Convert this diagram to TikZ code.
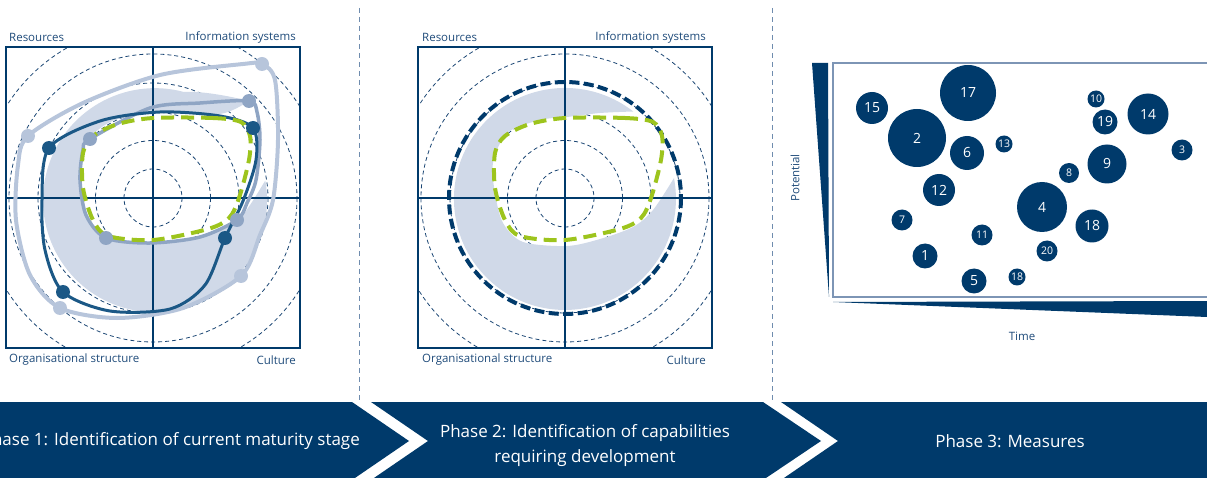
\documentclass[tikz,border=0pt]{standalone}
\usepackage{fontspec}
\setmainfont{Open Sans}
\usetikzlibrary{positioning}

\definecolor{navy}{HTML}{003A6B}
\definecolor{ringblue}{HTML}{1A4573}
\definecolor{darkline}{HTML}{1B5886}
\definecolor{midline}{HTML}{8FA5C4}
\definecolor{lightline}{HTML}{B7C5DB}
\definecolor{fillblue}{HTML}{D0D9E8}
\definecolor{lime}{HTML}{9DC41D}
\definecolor{boxgrey}{HTML}{7D95B5}
\definecolor{sepgrey}{HTML}{6F8CAE}
\definecolor{labelblue}{HTML}{1F4B7A}

\begin{document}
\begin{tikzpicture}[x=1pt, y=-1pt,
    ring/.style={ringblue, line width=0.8pt, dash pattern=on 4pt off 3pt},
    axlabel/.style={text=labelblue, inner sep=0pt, font=\fontsize{11.5}{12}\selectfont},
    greendash/.style={lime, line width=4pt, dash pattern=on 13pt off 7pt},
    bubble/.style={circle, fill=navy, text=white, inner sep=0pt, font=\fontsize{14}{14}\selectfont},
    smallbubble/.style={bubble, font=\fontsize{10.5}{10.5}\selectfont},
    phase/.style={text=white, inner sep=0pt, align=center, font=\fontsize{17}{25}\selectfont}]
    \clip (0,0) rectangle (1207,478);

    % panel 1: current maturity
    \coordinate (c1) at (153,198);
    \foreach \r in {29,57.5,86,115,144} \draw[ring] (c1) circle[radius=\r];
    \begin{scope}
        \clip (6,47) rectangle (300,348);
        \draw[ring] (c1) circle[radius=173];
    \end{scope}
    \fill[fillblue] (249,101) .. controls (225,95) and (200,91) .. (184,92)
        arc[start angle=-75, end angle=-370, radius=112]
        -- plot[smooth] coordinates {(265,181) (250,205) (237,220) (200,237) (150,244) (106,239) (86,216) (79,180) (83,150) (92,135) (115,120) (160,112) (220,114) (249,101)} -- cycle;
    \draw[navy, line width=1.2pt] (6,198) -- (300,198);
    \draw[navy, line width=1.2pt] (153,47) -- (153,348);
    \draw[navy, line width=1.3pt] (6,47) rectangle (300,348);

    \draw[lightline, line width=4pt] plot[smooth cycle] coordinates {(28,136) (83,103) (160,75) (243,64) (262,64) (275,80) (278,140) (273,200) (260,235) (241,276) (183,308) (117,318) (60,308) (30,275) (16,220) (18,165)};
    \draw[midline, line width=3.5pt] plot[smooth cycle] coordinates {(90,139) (150,108) (200,103) (249,101) (257,112) (260,140) (256,180) (247,203) (237,220) (200,237) (150,243) (106,238) (86,215) (80,180) (83,150)};
    \draw[darkline, line width=3pt] plot[smooth cycle] coordinates {(49,148) (100,121) (160,112) (220,116) (253,128) (256,160) (243,201) (225,238) (205,285) (170,309) (110,311) (63,292) (45,250) (42,200)};

    % panel 2: capabilities
    \coordinate (c2) at (565,198);
    \foreach \r in {29,57.5,86,115,144} \draw[ring] (c2) circle[radius=\r];
    \begin{scope}
        \clip (418,47) rectangle (712,348);
        \draw[ring] (c2) circle[radius=173];
    \end{scope}
    \fill[fillblue] (633.3,111.5) arc[start angle=-52, end angle=-371, radius=111]
        -- plot[smooth] coordinates {(674,178) (653,210) (633,227) (600,239) (567,246) (523,242) (503,223) (495,193) (493,163) (507,133) (540,120) (567,117) (600,113) (633.3,111.5)} -- cycle;
    \draw[navy, line width=1.2pt] (418,198) -- (712,198);
    \draw[navy, line width=1.2pt] (565,47) -- (565,348);
    \draw[navy, line width=1.3pt] (418,47) rectangle (712,348);
    \draw[navy, line width=4pt, dash pattern=on 10pt off 4.5pt] (c2) circle[radius=116];

    % green target in both panels
    \foreach \c in {c1,c2}{
        \begin{scope}[shift={(\c)}]
            \draw[greendash] plot[smooth cycle] coordinates {(0,-80) (60,-80) (88,-76) (97,-62) (96,-38) (86,0) (76,20) (55,31) (0,42) (-45,38) (-60,22) (-70,-10) (-70,-45) (-60,-62) (-35,-74)};
        \end{scope}
    }

    \foreach \p in {(28,136),(262,64),(241,276),(60,308)} \fill[lightline] \p circle[radius=7];
    \foreach \p in {(90,139),(249,101),(237,220),(106,238)} \fill[midline] \p circle[radius=7];
    \foreach \p in {(49,148),(253,128),(225,238),(63,292)} \fill[darkline] \p circle[radius=7];

    \node[axlabel, anchor=west] (res1) at (9,37) {Resources};
    \node[axlabel, anchor=east] (inf1) at (296,37) {Information systems};
    \node[axlabel, anchor=west] (org1) at (9,360) {Organisational structure};
    \node[axlabel, anchor=east] (cul1) at (296,360) {Culture};
    \node[axlabel, anchor=west] (res2) at (422,37) {Resources};
    \node[axlabel, anchor=east] (inf2) at (706,37) {Information systems};
    \node[axlabel, anchor=west] (org2) at (422,360) {Organisational structure};
    \node[axlabel, anchor=east] (cul2) at (706,360) {Culture};

    % panel 3: measures
    \fill[navy] (812,63) -- (828,63) -- (829,297) -- cycle;
    \fill[navy] (833,302) -- (1207,301) -- (1207,317) -- cycle;
    \draw[boxgrey, line width=1.2pt] (1210,63) -- (833,63) -- (833,297) -- (1210,297);
    \node[axlabel, rotate=90] (potential) at (795,178) {Potential};
    \node[axlabel] (time) at (1022,336) {Time};

    \node[bubble, minimum size=32pt] (b15) at (872,108) {15};
    \node[bubble, minimum size=56pt] (b17) at (968,93) {17};
    \node[bubble, minimum size=58pt] (b2) at (917,138) {2};
    \node[bubble, minimum size=34pt] (b6) at (967,153) {6};
    \node[smallbubble, minimum size=17pt] (b13) at (1004,144) {13};
    \node[bubble, minimum size=32pt] (b12) at (939,190) {12};
    \node[smallbubble, minimum size=21pt] (b7) at (902,220) {7};
    \node[bubble, minimum size=25pt] (b1) at (925,256) {1};
    \node[smallbubble, minimum size=21pt] (b11) at (982,235) {11};
    \node[bubble, minimum size=25pt] (b5) at (974,281) {5};
    \node[smallbubble, minimum size=17pt] (b18s) at (1017,277) {18};
    \node[smallbubble, minimum size=21pt] (b20) at (1047,251) {20};
    \node[bubble, minimum size=50pt] (b4) at (1042,207) {4};
    \node[bubble, minimum size=33pt] (b18) at (1092,226) {18};
    \node[smallbubble, minimum size=20pt] (b8) at (1069,173) {8};
    \node[bubble, minimum size=39pt] (b9) at (1107,164) {9};
    \node[smallbubble, minimum size=17pt] (b10) at (1096,99) {10};
    \node[bubble, minimum size=25pt] (b19) at (1105,122) {19};
    \node[bubble, minimum size=41pt] (b14) at (1148,114) {14};
    \node[smallbubble, minimum size=21pt] (b3) at (1182,150) {3};

    % separators and phase banner
    \draw[sepgrey, line width=0.9pt, dash pattern=on 5pt off 4pt] (359,8) -- (359,400);
    \draw[sepgrey, line width=0.9pt, dash pattern=on 5pt off 4pt] (772,8) -- (772,400);
    \fill[navy] (0,402) -- (352,402) -- (409,441) -- (352,480) -- (0,480) -- cycle;
    \fill[navy] (371,402) -- (763,402) -- (821,441) -- (763,480) -- (371,480) -- (428,441) -- cycle;
    \fill[navy] (781,402) -- (1207,402) -- (1207,480) -- (781,480) -- (838,441) -- cycle;
    \node[phase, anchor=east] (p1) at (360,441) {Phase 1: Identification of current maturity stage};
    \node[phase] (p2) at (585,446) {Phase 2: Identification of capabilities\\requiring development};
    \node[phase] (p3) at (1010,441) {Phase 3: Measures};
\end{tikzpicture}
\end{document}
